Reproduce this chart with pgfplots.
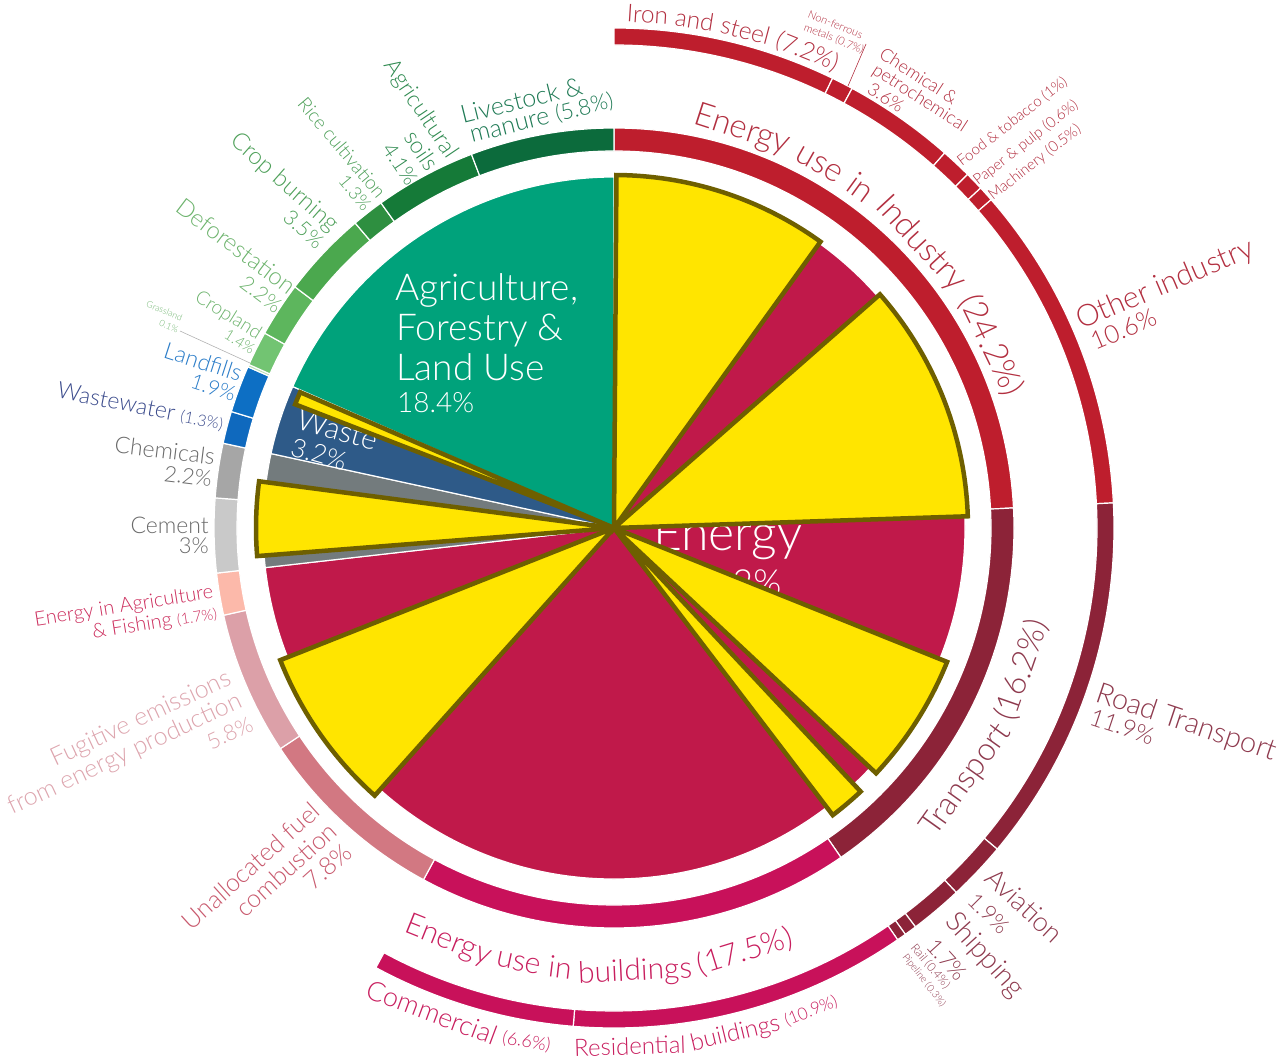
\documentclass[border=0pt]{standalone}
\usepackage{pgfplots}
\pgfplotsset{compat=1.18}
\usepackage{fontspec}
\IfFontExistsTF{Lato Light}{\setmainfont{Lato Light}}{\setmainfont{Lato}}

\definecolor{pieEnergy}{HTML}{C0194A}
\definecolor{pieAgri}{HTML}{00A27B}
\definecolor{pieWaste}{HTML}{2E5A88}
\definecolor{pieInd}{HTML}{737B7D}
\definecolor{yel}{HTML}{FFE500}
\definecolor{olive}{HTML}{6E5F00}
\definecolor{rInd}{HTML}{BE1E2D}
\definecolor{rTrans}{HTML}{8C2338}
\definecolor{rBuild}{HTML}{C8115A}
\definecolor{rUnal}{HTML}{D27882}
\definecolor{rFug}{HTML}{DCA0A8}
\definecolor{rEAg}{HTML}{FCB9AA}
\definecolor{rCement}{HTML}{C9C9C9}
\definecolor{rChem}{HTML}{A6A6A6}
\definecolor{rWW}{HTML}{0F69BE}
\definecolor{rLand}{HTML}{0D6FC4}
\definecolor{rGrass}{HTML}{B5DDB0}
\definecolor{rCrop}{HTML}{72C472}
\definecolor{rDefor}{HTML}{5DB65D}
\definecolor{rBurn}{HTML}{4BA84E}
\definecolor{rRice}{HTML}{2E8F40}
\definecolor{rSoil}{HTML}{157A38}
\definecolor{rLive}{HTML}{0C6B3C}
\definecolor{tInd}{HTML}{B22F40}
\definecolor{tTrans}{HTML}{8E3A4E}
\definecolor{tBuild}{HTML}{C81E5E}
\definecolor{tUnal}{HTML}{C85A6E}
\definecolor{tFug}{HTML}{DDA5AE}
\definecolor{tEAg}{HTML}{CC2F5E}
\definecolor{tGray}{HTML}{6A6A6A}
\definecolor{tWW}{HTML}{3B4B8C}
\definecolor{tLand}{HTML}{2A7CC8}
\definecolor{tCrop}{HTML}{6DB36D}
\definecolor{tGreen}{HTML}{4FA05A}
\definecolor{tSoil}{HTML}{2F8A50}
\definecolor{tLive}{HTML}{1F7A55}

\newcommand\fs[1]{\fontsize{#1}{#1}\selectfont}
\pgfdeclareplotmark{blank}{}

\newdimen\wordw
\newdimen\spacew
% words set one by one along an arc:
% radius, start angle, direction (-1 clockwise, 1 counter), size, colour, words
\newcommand\arcwords[6]{%
  \xdef\arcang{#2}%
  \foreach \w in {#6}{%
    \node[inner sep=0pt] at (0,0) {\setbox0=\hbox{\fs{#4}\w}\global\wordw=\wd0
      \setbox0=\hbox{\fs{#4}\ }\global\spacew=\wd0};%
    \pgfmathsetmacro\dw{\wordw/#1*57.29578}%
    \pgfmathsetmacro\dsp{\spacew/#1*57.29578}%
    \pgfmathsetmacro\amid{\arcang+(#3)*\dw/2}%
    \pgfmathsetmacro\rot{\amid+(#3)*90}%
    \node[inner sep=0pt, anchor=base, rotate=\rot, text=#5] at (\amid:#1pt) {\fs{#4}\w};%
    \pgfmathsetmacro\nxt{\arcang+(#3)*(\dw+\dsp)}%
    \xdef\arcang{\nxt}%
  }%
}

\pgfplotsset{
  frame/.style={x=1pt, y=1pt, y dir=reverse,
    xmin=0, xmax=1284, ymin=0, ymax=1062,
    hide axis, clip=false, point meta min=0, point meta max=1100},
  pie/.style={only marks, mark=blank, scatter,
    visualization depends on={value \thisrow{a1}\as\aone},
    visualization depends on={value \thisrow{a2}\as\atwo},
    visualization depends on={value \thisrow{r}\as\rout},
    visualization depends on={value \thisrow{c}\as\col},
    scatter/@pre marker code/.code={%
      \path[fill=\col,#1] (0,0) -- (\aone:\rout pt) arc[start angle=\aone,end angle=\atwo,radius=\rout pt] -- cycle;},
    scatter/@post marker code/.code={}},
  band/.style={only marks, mark=blank, scatter,
    visualization depends on={value \thisrow{a1}\as\aone},
    visualization depends on={value \thisrow{a2}\as\atwo},
    visualization depends on={value \thisrow{ri}\as\rin},
    visualization depends on={value \thisrow{ro}\as\rout},
    visualization depends on={value \thisrow{c}\as\col},
    scatter/@pre marker code/.code={%
      \path[fill=\col,draw=white,line width=1.2pt] (\aone:\rout pt) arc[start angle=\aone,end angle=\atwo,radius=\rout pt] -- (\atwo:\rin pt) arc[start angle=\atwo,end angle=\aone,radius=\rin pt] -- cycle;},
    scatter/@post marker code/.code={}},
}
\tikzset{lab/.style={inner sep=0pt, anchor=base west}}

\begin{document}
\begin{tikzpicture}
% ---------- axis 1: pie and rings
\begin{axis}[frame]
\coordinate (C) at (axis cs:614,528);
\addplot[pie={draw=white,line width=1.2pt}] table {
x y a1 a2 r c
614 528 90 -173.52 351 pieEnergy
614 528 -173.52 -192.24 351 pieInd
614 528 -192.24 -203.76 351 pieWaste
614 528 -203.76 -270 351 pieAgri
};
\addplot[band] table {
x y a1 a2 ri ro c
614 528 90 2.88 377 400 rInd
614 528 2.88 -55.44 377 400 rTrans
614 528 -55.44 -118.44 377 400 rBuild
614 528 -118.44 -146.52 377 400 rUnal
614 528 -146.52 -167.40 377 400 rFug
614 528 -167.40 -173.52 377 400 rEAg
614 528 -173.52 -184.32 377 400 rCement
614 528 -184.32 -192.24 377 400 rChem
614 528 -192.24 -196.92 377 400 rWW
614 528 -196.92 -203.76 377 400 rLand
614 528 -203.76 -204.12 377 400 rGrass
614 528 -204.12 -209.16 377 400 rCrop
614 528 -209.16 -217.08 377 400 rDefor
614 528 -217.08 -229.68 377 400 rBurn
614 528 -229.68 -234.36 377 400 rRice
614 528 -234.36 -249.12 377 400 rSoil
614 528 -249.12 -270 377 400 rLive
};
\addplot[band] table {
x y a1 a2 ri ro c
614 528 90 64.08 483 500 rInd
614 528 64.08 61.56 483 500 rInd
614 528 61.56 48.60 483 500 rInd
614 528 48.60 45.00 483 500 rInd
614 528 45.00 42.84 483 500 rInd
614 528 42.84 41.04 483 500 rInd
614 528 41.04 2.88 483 500 rInd
614 528 2.88 -39.96 483 500 rTrans
614 528 -39.96 -46.80 483 500 rTrans
614 528 -46.80 -52.92 483 500 rTrans
614 528 -52.92 -54.36 483 500 rTrans
614 528 -54.36 -55.44 483 500 rTrans
614 528 -55.44 -94.68 483 500 rBuild
614 528 -94.68 -118.44 483 500 rBuild
};
\end{axis}

% ---------- axis 2: labels and highlighted wedges (marks drawn last)
\begin{axis}[frame]
\node[lab, text=white] at (axis cs:395,300) {\fs{37}Agriculture,};
\node[lab, text=white] at (axis cs:396,340) {\fs{37}Forestry \&};
\node[lab, text=white] at (axis cs:396,380) {\fs{37}Land Use};
\node[lab, text=white] at (axis cs:397,412) {\fs{28}18.4\%};
\node[lab, text=white] at (axis cs:653,550) {\fs{50}Energy};
\node[lab, text=white] at (axis cs:682,595) {\fs{36}73.2\%};
\node[lab, rotate=-16, text=white] at (axis cs:295,428) {\fs{30}Waste};
\node[lab, rotate=-16, text=white] at (axis cs:289,455) {\fs{26}3.2\%};

\addplot[pie={draw=olive,line width=4.5pt,line join=miter}] table {
x y a1 a2 r c
614 528 89.6 54.2 353 yel
614 528 41.3 1.9 354 yel
614 528 -21.9 -43.1 359 yel
614 528 -46.9 -52.7 361 yel
614 528 201.6 228.2 359 yel
614 528 172.5 184.5 358 yel
614 528 156.6 158.8 342 yel
};

% industry labels
\node[lab, rotate=-22, text=tInd] at (axis cs:807,17) {\fs{11}Non-ferrous};
\node[lab, rotate=-22, text=tInd] at (axis cs:803,30) {\fs{11}metals (0.7\%)};
\draw[tInd, line width=0.6pt] (axis cs:848,86) -- (axis cs:866,44);
\node[lab, rotate=-33, text=tInd] at (axis cs:878,57) {\fs{18}Chemical \&};
\node[lab, rotate=-33, text=tInd] at (axis cs:871,73) {\fs{18}petrochemical};
\node[lab, rotate=-33, text=tInd] at (axis cs:866,92) {\fs{18}3.6\%};
\node[lab, rotate=38, text=tInd] at (axis cs:962,167) {\fs{15}Food \& tobacco (1\%)};
\node[lab, rotate=38, text=tInd] at (axis cs:978,186) {\fs{15}Paper \& pulp (0.6\%)};
\node[lab, rotate=38, text=tInd] at (axis cs:993,201) {\fs{15}Machinery (0.5\%)};
\node[lab, rotate=23, text=tInd] at (axis cs:1081,330) {\fs{30}Other industry};
\node[lab, rotate=23, text=tInd] at (axis cs:1095,351) {\fs{25}10.6\%};

% transport labels
\node[lab, rotate=-18.5, text=tTrans] at (axis cs:1094,701) {\fs{29}Road Transport};
\node[lab, rotate=-18.5, text=tTrans] at (axis cs:1088,724) {\fs{24}11.9\%};
\node[lab, rotate=-43, text=tTrans] at (axis cs:983,880) {\fs{27}Aviation};
\node[lab, rotate=-45, text=tTrans] at (axis cs:966,902) {\fs{22}1.9\%};
\node[lab, rotate=-48, text=tTrans] at (axis cs:944,922) {\fs{28}Shipping};
\node[lab, rotate=-48, text=tTrans] at (axis cs:925,947) {\fs{22}1.7\%};
\node[lab, rotate=-50, text=tTrans] at (axis cs:910,948) {\fs{12}Rail (0.4\%)};
\node[lab, rotate=-52, text=tTrans] at (axis cs:902,957) {\fs{10}Pipeline (0.3\%)};

% left labels
\node[lab, anchor=base east, rotate=42, text=tUnal] at (axis cs:322,814) {\fs{25}Unallocated fuel};
\node[lab, anchor=base east, rotate=42, text=tUnal] at (axis cs:339,834) {\fs{25}combustion};
\node[lab, anchor=base east, rotate=42, text=tUnal] at (axis cs:354,855) {\fs{25}7.8\%};
\node[lab, anchor=base east, rotate=25, text=tFug] at (axis cs:233,684) {\fs{25}Fugitive emissions};
\node[lab, anchor=base east, rotate=25, text=tFug] at (axis cs:244,707) {\fs{25}from energy production};
\node[lab, anchor=base east, rotate=25, text=tFug] at (axis cs:255,730) {\fs{22}5.8\%};
\node[lab, anchor=base east, rotate=9, text=tEAg] at (axis cs:214,598) {\fs{20}Energy in Agriculture};
\node[lab, anchor=base east, rotate=9, text=tEAg] at (axis cs:218,619) {\fs{20}\& Fishing {\fs{15}(1.7\%)}};
\node[lab, anchor=base east, text=tGray] at (axis cs:209,533) {\fs{23}Cement};
\node[lab, anchor=base east, text=tGray] at (axis cs:209,553) {\fs{22}3\%};
\node[lab, anchor=base east, rotate=-7, text=tGray] at (axis cs:214,465) {\fs{23}Chemicals};
\node[lab, anchor=base east, rotate=-7, text=tGray] at (axis cs:211,487) {\fs{22}2.2\%};
\node[lab, anchor=base east, rotate=-11, text=tWW] at (axis cs:222,430) {\fs{23}Wastewater {\fs{16}(1.3\%)}};
\node[lab, anchor=base east, rotate=-18, text=tLand] at (axis cs:239,382) {\fs{23}Landfills};
\node[lab, anchor=base east, rotate=-18, text=tLand] at (axis cs:233,402) {\fs{21}1.9\%};
\node[lab, anchor=base east, rotate=-22, text=tCrop] at (axis cs:181,321) {\fs{9}Grassland};
\node[lab, anchor=base east, rotate=-22, text=tCrop] at (axis cs:177,333) {\fs{9}0.1\%};
\draw[black!30, line width=0.6pt] (axis cs:180,331) -- (axis cs:250,363);
\node[lab, anchor=base east, rotate=-32, text=tCrop] at (axis cs:257,340) {\fs{19}Cropland};
\node[lab, anchor=base east, rotate=-32, text=tCrop] at (axis cs:251,355) {\fs{15}1.4\%};
\node[lab, anchor=base east, rotate=-37, text=tCrop] at (axis cs:288,296) {\fs{24}Deforestation};
\node[lab, anchor=base east, rotate=-37, text=tCrop] at (axis cs:275,314) {\fs{21}2.2\%};
\node[lab, anchor=base east, rotate=-41.5, text=tGreen] at (axis cs:331,233) {\fs{24}Crop burning};
\node[lab, anchor=base east, rotate=-41.5, text=tGreen] at (axis cs:316,250) {\fs{21}3.5\%};
\node[lab, anchor=base east, rotate=-50, text=tGreen] at (axis cs:377,200) {\fs{19}Rice cultivation};
\node[lab, anchor=base east, rotate=-50, text=tGreen] at (axis cs:363,212) {\fs{18}1.3\%};
\node[lab, anchor=base east, rotate=-56, text=tSoil] at (axis cs:447,160) {\fs{23}Agricultural};
\node[lab, anchor=base east, rotate=-56, text=tSoil] at (axis cs:427,173) {\fs{23}soils};
\node[lab, anchor=base east, rotate=-56, text=tSoil] at (axis cs:407,187) {\fs{21}4.1\%};
\node[lab, rotate=14, text=tLive] at (axis cs:463,124) {\fs{25}Livestock \&};
\node[lab, rotate=14, text=tLive] at (axis cs:472,143) {\fs{25}manure {\fs{22}(5.8\%)}};
\end{axis}

% ---------- labels set along the rings
\begin{scope}[shift={(C)}]
\arcwords{506}{88.6}{-1}{24.5}{tInd}{Iron,and,steel,(7.2\%)}
\arcwords{409}{79}{-1}{33}{tInd}{Energy,use,in,Industry,(24.2\%)}
\arcwords{442}{-44}{1}{32}{tTrans}{Transport,(16.2\%)}
\arcwords{453}{-117.5}{1}{30}{tBuild}{Energy,use,in,buildings,(17.5\%)}
\arcwords{527}{-118}{1}{27}{tBuild}{Commercial}
\arcwords{527}{\arcang}{1}{18}{tBuild}{(6.6\%)}
\arcwords{527}{-94.3}{1}{24}{tBuild}{Residential,buildings}
\arcwords{527}{\arcang}{1}{17}{tBuild}{(10.9\%)}
\end{scope}
\pgfresetboundingbox
\path[use as bounding box] (current axis.south west) rectangle (current axis.north east);
\end{tikzpicture}
\end{document}
